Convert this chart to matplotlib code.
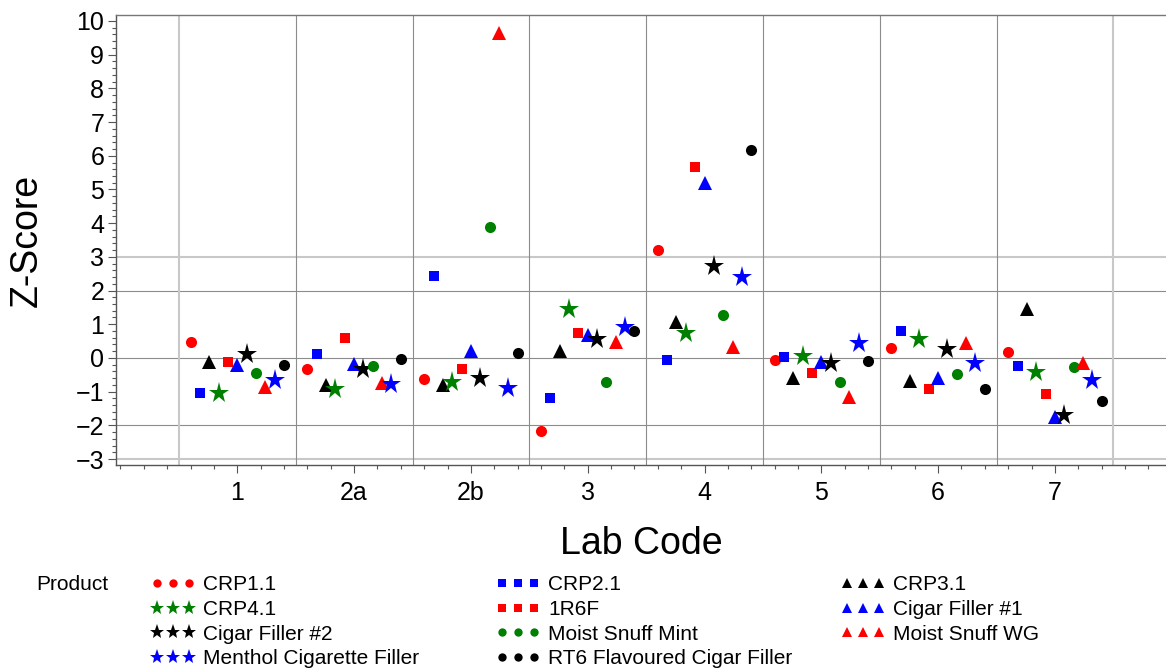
import matplotlib
matplotlib.use("Agg")
import matplotlib.pyplot as plt
from matplotlib.lines import Line2D
import numpy as np

plt.rcParams['font.family'] = ['Liberation Sans', 'DejaVu Sans']

# lab codes on the x axis
labs = ["1", "2a", "2b", "3", "4", "5", "6", "7"]

# products, in plotting order
products = ["CRP1.1", "CRP2.1", "CRP3.1", "CRP4.1", "1R6F", "Cigar Filler #1",
            "Cigar Filler #2", "Moist Snuff Mint", "Moist Snuff WG",
            "Menthol Cigarette Filler", "RT6 Flavoured Cigar Filler"]
colors = ["red", "blue", "black", "green", "red", "blue",
          "black", "green", "red", "blue", "black"]
markers = ["o", "s", "^", "*", "s", "^", "*", "o", "^", "*", "o"]

# z-scores per product, one value per lab (1, 2a, 2b, 3, 4, 5, 6, 7)
crp11 = [0.48, -0.34, -0.63, -2.16, 3.20, -0.06, 0.28, 0.18]
crp21 = [-1.03, 0.12, 2.43, -1.20, -0.06, 0.02, 0.80, -0.23]
crp31 = [-0.11, -0.80, -0.80, 0.21, 1.07, -0.61, -0.68, 1.44]
crp41 = [-1.03, -0.93, -0.71, 1.44, 0.73, 0.06, 0.55, -0.41]
r6f = [-0.12, 0.58, -0.33, 0.73, 5.68, -0.44, -0.93, -1.07]
cigar1 = [-0.21, -0.18, 0.21, 0.68, 5.18, -0.11, -0.59, -1.76]
cigar2 = [0.12, -0.34, -0.61, 0.55, 2.74, -0.16, 0.26, -1.70]
snuff_mint = [-0.44, -0.23, 3.88, -0.72, 1.27, -0.72, -0.49, -0.26]
snuff_wg = [-0.87, -0.75, 9.63, 0.48, 0.33, -1.17, 0.45, -0.14]
menthol = [-0.66, -0.77, -0.90, 0.93, 2.41, 0.43, -0.14, -0.66]
rt6 = [-0.21, -0.03, 0.14, 0.80, 6.17, -0.08, -0.93, -1.28]
zscores = [crp11, crp21, crp31, crp41, r6f, cigar1, cigar2,
           snuff_mint, snuff_wg, menthol, rt6]

# marker sizes (points) for plot and legend
plot_size = {"o": 8.0, "s": 7.8, "^": 10.5, "*": 15.5}
leg_size = {"o": 6.0, "s": 5.5, "^": 6.5, "*": 11.0}

fig = plt.figure(figsize=(11.66, 6.7), dpi=100)
ax = fig.add_axes([116/1166, 1 - 465/670, 1 - 116/1166, 450/670])

# reference lines
for y in [3, -3]:
    ax.axhline(y, color="#c8c8c8", lw=1.5, zorder=1)
for y in [2, 0, -2]:
    ax.axhline(y, color="#8c8c8c", lw=0.8, zorder=1)
for x in [0.5, 8.5]:
    ax.axvline(x, color="#c8c8c8", lw=1.5, zorder=1)
for x in np.arange(1.5, 8.0, 1.0):
    ax.axvline(x, color="#8c8c8c", lw=0.8, zorder=1)

xpos = np.arange(1, len(labs) + 1)
for i in range(len(products)):
    off = -0.4 + 0.08 * i
    ax.plot(xpos + off, zscores[i], linestyle="none", marker=markers[i],
            color=colors[i], markersize=plot_size[markers[i]],
            markeredgewidth=0, zorder=3 + i)

ax.set_xlim(-0.0385, 8.951)
ax.set_ylim(-3.178, 10.178)
ax.set_xticks(xpos)
ax.set_xticklabels(labs)
ax.set_xticks(np.arange(0, 9.0, 0.2), minor=True)
ax.set_yticks(np.arange(-3, 11, 1))
ax.set_yticks(np.arange(-3, 10.01, 0.2), minor=True)

for s in ["left", "bottom", "top"]:
    ax.spines[s].set_color("#555555")
    ax.spines[s].set_linewidth(1.0)
ax.spines["top"].set_color("#777777")
ax.spines["right"].set_visible(False)

ax.tick_params(axis="both", which="major", labelsize=18, color="#555555",
               direction="out", length=5.5, width=0.8)
ax.tick_params(axis="both", which="minor", color="#555555",
               direction="out", length=3, width=0.8)
ax.tick_params(axis="x", which="major", pad=6)
ax.tick_params(axis="y", which="major", pad=3)

ax.set_xlabel("Lab Code", fontsize=27, labelpad=15)
ax.set_ylabel("Z-Score", fontsize=27, labelpad=22)

# legend: three columns laid out row by row
fig.text(36/1166, 1 - 584/670, "Product", fontsize=15, va="center", ha="left")
col_x = [150.5, 495.5, 840.5]
for c in range(3):
    idx = list(range(c, len(products), 3))
    handles = [Line2D([], [], linestyle="none", marker=markers[i], color=colors[i],
                      markersize=leg_size[markers[i]], markeredgewidth=0)
               for i in idx]
    labels = [products[i] for i in idx]
    fig.legend(handles, labels, loc="upper left",
               bbox_to_anchor=(col_x[c]/1166, 1 - 575/670),
               bbox_transform=fig.transFigure, frameon=False,
               fontsize=15, numpoints=3, handlelength=2.14, handletextpad=0.4,
               borderpad=0, borderaxespad=0, labelspacing=0.28)

fig.savefig("out.png", dpi=100)
